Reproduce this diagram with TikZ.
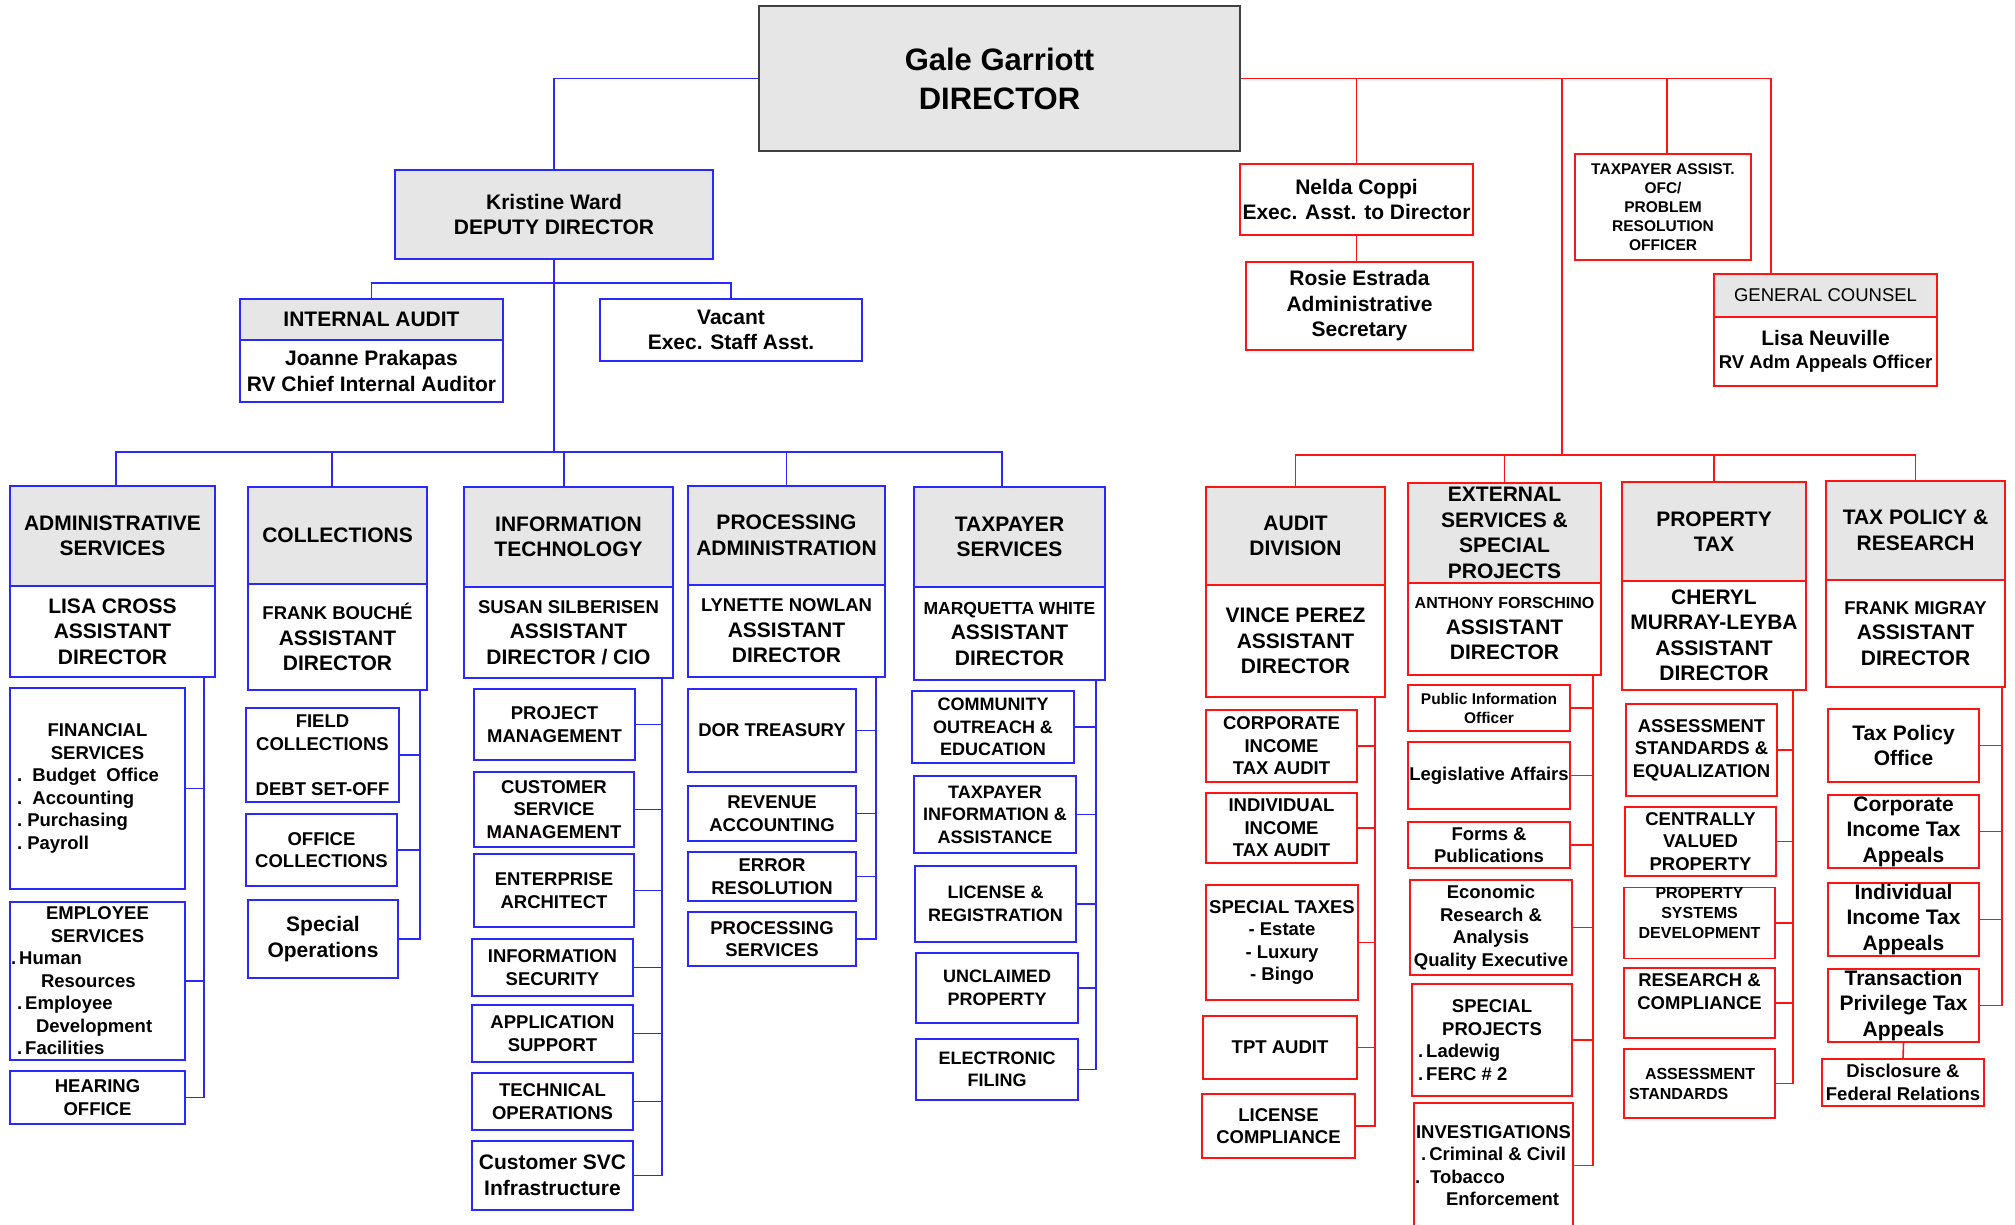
\documentclass[tikz,border=0pt]{standalone}
\usepackage{fontspec}
\setmainfont{Liberation Sans}

\definecolor{orgblue}{RGB}{40,40,255}
\definecolor{orgred}{RGB}{255,20,20}
\definecolor{boxgray}{RGB}{230,230,230}

\newcommand{\fbig}{\fontsize{31}{39}\selectfont}
\newcommand{\fhead}{\fontsize{21}{25.5}\selectfont}
\newcommand{\fsub}{\fontsize{18.5}{22.5}\selectfont}
\newcommand{\fsmall}{\fontsize{16}{20}\selectfont}
\newcommand{\ftiny}{\fontsize{15.5}{19}\selectfont}

\tikzset{
  every node/.style={inner sep=0pt, align=center},
  corners/.style args={#1/#2/#3/#4}{minimum width=#3-#1, minimum height=#4-#2,
    at={({(#1+#3)/2},{(#2+#4)/2})}, anchor=center},
  bbox/.style={draw=orgblue, line width=1.4pt, font=\bfseries\fsub},
  rbox/.style={draw=orgred, line width=1.4pt, font=\bfseries\fsub},
  bhead/.style={bbox, fill=boxgray, font=\bfseries\fhead},
  bbody/.style={bbox, font=\bfseries\fhead},
  rhead/.style={rbox, fill=boxgray, font=\bfseries\fhead},
  rbody/.style={rbox, font=\bfseries\fhead},
  bline/.style={orgblue, line width=1.6pt},
  rline/.style={orgred, line width=1.6pt},
}

\begin{document}
\begin{tikzpicture}[x=1pt, y=-1pt]
  \useasboundingbox (0,0) rectangle (2015,1225);

  % top
  \node[draw=black!75, line width=2pt, fill=boxgray, font=\bfseries\fbig, corners=759/6/1240/151] (dir) {Gale Garriott\\DIRECTOR};
  \node[bhead, corners=395/170/713/259] (kw) {Kristine Ward\\DEPUTY DIRECTOR};
  \node[bhead, corners=240/299/503/340] (iah) {INTERNAL AUDIT};
  \node[bbody, corners=240/340/503/402] (iab) {Joanne Prakapas\\RV Chief Internal Auditor};
  \node[bbody, corners=600/299/862/361] (va) {Vacant\\Exec. Staff Asst.};

  \node[rbody, corners=1240/164/1473/235] (nelda) {Nelda Coppi\\Exec. Asst. to Director};
  \node[rbody, corners=1246/262/1473/350] (rosie) {Rosie Estrada\\Administrative\\Secretary};
  \node[rbox, font=\bfseries\ftiny, corners=1575/154/1751/260] (tpa) {TAXPAYER ASSIST.\\OFC/\\PROBLEM\\RESOLUTION\\OFFICER};
  \node[rhead, font=\mdseries\fsub, corners=1714/274/1937/317] (gch) {GENERAL COUNSEL};
  \node[rbox, corners=1714/317/1937/386] (gcb) {{\fontsize{21}{23.5}\selectfont Lisa Neuville}\\RV Adm Appeals Officer};

  % blue divisions
  \node[bhead, corners=10/486/215/586] (admh) {ADMINISTRATIVE\\SERVICES};
  \node[bbody, corners=10/586/215/677] (admb) {LISA CROSS\\ASSISTANT\\DIRECTOR};
  \node[bhead, corners=248/487/427/584] (colh) {COLLECTIONS};
  \node[bbody, corners=248/584/427/690] (colb) {{\fsub FRANK BOUCHÉ}\\ASSISTANT\\DIRECTOR};
  \node[bhead, corners=464/487/673/587] (ith) {INFORMATION\\TECHNOLOGY};
  \node[bbody, corners=464/587/673/678] (itb) {{\fsub SUSAN SILBERISEN}\\ASSISTANT\\DIRECTOR / CIO};
  \node[bhead, corners=688/486/885/585] (proch) {PROCESSING\\ADMINISTRATION};
  \node[bbody, corners=688/585/885/677] (procb) {{\fsub LYNETTE NOWLAN}\\ASSISTANT\\DIRECTOR};
  \node[bhead, corners=914/487/1105/587] (tpsh) {TAXPAYER\\SERVICES};
  \node[bbody, corners=914/587/1105/680] (tpsb) {{\fontsize{17.5}{22}\selectfont MARQUETTA WHITE}\\ASSISTANT\\DIRECTOR};

  % red divisions
  \node[rhead, corners=1206/487/1385/585] (audh) {AUDIT\\DIVISION};
  \node[rbody, corners=1206/585/1385/697] (audb) {VINCE PEREZ\\ASSISTANT\\DIRECTOR};
  \node[rhead, corners=1408/483/1601/583] (exth) {EXTERNAL\\SERVICES \&\\SPECIAL\\PROJECTS};
  \node[rbody, corners=1408/583/1601/675] (extb) {{\fsmall ANTHONY FORSCHINO}\\ASSISTANT\\DIRECTOR};
  \node[rhead, corners=1622/482/1806/581] (proph) {PROPERTY\\TAX};
  \node[rbody, corners=1622/581/1806/690] (propb) {CHERYL\\MURRAY-LEYBA\\ASSISTANT\\DIRECTOR};
  \node[rhead, corners=1826/481/2005/580] (tprh) {TAX POLICY \&\\RESEARCH};
  \node[rbody, corners=1826/580/2005/687] (tprb) {{\fsub FRANK MIGRAY}\\ASSISTANT\\DIRECTOR};

  % administrative services units
  \node[bbox, corners=10/688/185/889] (fin) {FINANCIAL\\SERVICES\\\makebox[161pt][l]{.\ \ Budget\ \ Office}\\\makebox[161pt][l]{.\ \ Accounting}\\\makebox[161pt][l]{.\ Purchasing}\\\makebox[161pt][l]{.\ Payroll}};
  \node[bbox, corners=10/902/185/1060] (emp) {EMPLOYEE\\SERVICES\\\makebox[173pt][l]{.\,Human}\\\makebox[161pt][l]{\hspace*{24pt}Resources}\\\makebox[161pt][l]{.\,Employee}\\\makebox[161pt][l]{\hspace*{19pt}Development}\\\makebox[161pt][l]{.\,Facilities}};
  \node[bbox, corners=10/1071/185/1124] (hear) {HEARING\\OFFICE};

  % collections units
  \node[bbox, corners=246/708/399/802] (fld) {FIELD\\COLLECTIONS\\[22.5pt]DEBT SET-OFF};
  \node[bbox, corners=246/814/397/886] (ofc) {OFFICE\\COLLECTIONS};
  \node[bbox, font=\bfseries\fhead, corners=248/900/398/978] (spo) {Special\\Operations};

  % information technology units
  \node[bbox, corners=474/689/635/760] (pm) {PROJECT\\MANAGEMENT};
  \node[bbox, corners=474/772/634/847] (csm) {CUSTOMER\\SERVICE\\MANAGEMENT};
  \node[bbox, corners=474/854/634/927] (ea) {ENTERPRISE\\ARCHITECT};
  \node[bbox, corners=472/939/633/996] (itsec) {INFORMATION\\SECURITY};
  \node[bbox, corners=472/1005/633/1062] (appsup) {APPLICATION\\SUPPORT};
  \node[bbox, corners=472/1073/633/1130] (techop) {TECHNICAL\\OPERATIONS};
  \node[bbox, font=\bfseries\fhead, corners=472/1141/633/1210] (csi) {Customer SVC\\Infrastructure};

  % processing administration units
  \node[bbox, corners=688/689/856/772] (dor) {DOR TREASURY};
  \node[bbox, corners=688/786/856/841] (revacc) {REVENUE\\ACCOUNTING};
  \node[bbox, corners=688/852/856/901] (errres) {ERROR\\RESOLUTION};
  \node[bbox, corners=688/912/856/966] (procsv) {PROCESSING\\SERVICES};

  % taxpayer services units
  \node[bbox, font=\bfseries\fontsize{18}{22.5}\selectfont, corners=912/691/1074/763] (coe) {COMMUNITY\\OUTREACH \&\\EDUCATION};
  \node[bbox, font=\bfseries\fontsize{18}{22.5}\selectfont, corners=914/776/1076/853] (tia) {TAXPAYER\\INFORMATION \&\\ASSISTANCE};
  \node[bbox, font=\bfseries\fontsize{18}{22.5}\selectfont, corners=915/866/1076/942] (licreg) {LICENSE \&\\REGISTRATION};
  \node[bbox, font=\bfseries\fontsize{18}{22.5}\selectfont, corners=916/953/1078/1023] (uncl) {UNCLAIMED\\PROPERTY};
  \node[bbox, font=\bfseries\fontsize{18}{22.5}\selectfont, corners=916/1039/1078/1100] (efile) {ELECTRONIC\\FILING};

  % audit division units
  \node[rbox, corners=1206/710/1357/782] (cita) {CORPORATE\\INCOME\\TAX AUDIT};
  \node[rbox, corners=1206/793/1357/863] (iita) {INDIVIDUAL\\INCOME\\TAX AUDIT};
  \node[rbox, corners=1206/885/1358/1000] (spt) {SPECIAL TAXES\\- Estate\\- Luxury\\- Bingo};
  \node[rbox, corners=1203/1016/1357/1079] (tptaud) {TPT AUDIT};
  \node[rbox, corners=1202/1094/1355/1158] (liccmp) {LICENSE\\COMPLIANCE};

  % external services units
  \node[rbox, font=\bfseries\ftiny, corners=1408/685/1570/731] (pio) {Public Information\\Officer};
  \node[rbox, corners=1408/742/1570/809] (leg) {Legislative Affairs};
  \node[rbox, corners=1408/822/1570/868] (forms) {Forms \&\\Publications};
  \node[rbox, corners=1410/880/1572/975] (econ) {Economic\\Research \&\\Analysis\\Quality Executive};
  \node[rbox, corners=1412/984/1572/1096] (sproj) {SPECIAL\\PROJECTS\\\makebox[148pt][l]{.\,Ladewig}\\\makebox[148pt][l]{.\,FERC \# 2}};
  \node[rbox, corners=1414/1103/1573/1228] (inv) {INVESTIGATIONS\\.\,Criminal \& Civil\\\makebox[157pt][l]{.\hspace{10pt}Tobacco}\\\makebox[157pt][l]{\hspace*{31pt}Enforcement}};

  % property tax units
  \node[rbox, corners=1626/704/1777/796] (ase) {ASSESSMENT\\STANDARDS \&\\EQUALIZATION};
  \node[rbox, corners=1625/807/1776/876] (cvp) {CENTRALLY\\VALUED\\PROPERTY};
  \node[rbox, font=\bfseries\fsmall, corners=1624/888/1775/958] (psd) {PROPERTY\\SYSTEMS\\DEVELOPMENT\\~};
  \node[rbox, corners=1624/968/1775/1038] (rescmp) {RESEARCH \&\\COMPLIANCE\\~};
  \node[rbox, font=\bfseries\fsmall, corners=1624/1049/1775/1118] (asstd) {\makebox[141pt][l]{\hspace*{16pt}ASSESSMENT}\\\makebox[141pt][l]{STANDARDS}};

  % tax policy units
  \node[rbox, font=\bfseries\fhead, corners=1828/709/1979/782] (tpoff) {Tax Policy\\Office};
  \node[rbox, font=\bfseries\fhead, corners=1828/795/1979/868] (ctax) {Corporate\\Income Tax\\Appeals};
  \node[rbox, font=\bfseries\fhead, corners=1828/883/1979/956] (itax) {Individual\\Income Tax\\Appeals};
  \node[rbox, font=\bfseries\fhead, corners=1828/969/1979/1042] (ttax) {Transaction\\Privilege Tax\\Appeals};
  \node[rbox, corners=1822/1059/1984/1106] (dfr) {Disclosure \&\\Federal Relations};

  % blue connectors
  \coordinate (kwfork) at (554,283);
  \coordinate (bbus) at (554,452);
  \draw[bline] (dir.west) -| (kw.north);
  \draw[bline] (kw.south) -- (bbus);
  \draw[bline] (iah.north) |- (kwfork) -| (va.north);
  \draw[bline] ([xshift=3.5]admh.north) |- (bbus) -| ([xshift=-7.5]tpsh.north);
  \draw[bline] ([xshift=-5.5]colh.north) -- ([xshift=-5.5]colh.north |- bbus);
  \draw[bline] ([xshift=-4.5]ith.north) -- ([xshift=-4.5]ith.north |- bbus);
  \draw[bline] (proch.north) -- (proch.north |- bbus);

  \coordinate (admsp) at (204,677);
  \coordinate (colsp) at (420,690);
  \coordinate (itsp) at (662,678);
  \coordinate (procsp) at (876,677);
  \coordinate (tpssp) at (1096,680);
  \foreach \c in {fin,emp,hear} \draw[bline] (\c.east) -| (admsp);
  \foreach \c in {fld,ofc,spo} \draw[bline] (\c.east) -| (colsp);
  \foreach \c in {pm,csm,ea,itsec,appsup,techop,csi} \draw[bline] (\c.east) -| (itsp);
  \foreach \c in {dor,revacc,errres,procsv} \draw[bline] (\c.east) -| (procsp);
  \foreach \c in {coe,tia,licreg,uncl,efile} \draw[bline] (\c.east) -| (tpssp);

  % red connectors
  \coordinate (gctop) at (1771,274);
  \coordinate (rbus) at (1562,455);
  \draw[rline] (dir.east) -| (gctop);
  \draw[rline] (dir.east -| nelda.north) -- (nelda.north);
  \draw[rline] ([xshift=4]tpa.north |- dir.east) -- ([xshift=4]tpa.north);
  \draw[rline] (nelda.south) -- (nelda.south |- rosie.north);
  \draw[rline] (dir.east -| rbus) -- (rbus);
  \draw[rline] (audh.north) |- (rbus) -| (tprh.north);
  \foreach \n in {exth,proph}
    \draw[rline] (\n.north) -- (\n.north |- rbus);

  \coordinate (audsp) at (1375,697);
  \coordinate (extsp) at (1593,675);
  \coordinate (propsp) at (1793,690);
  \coordinate (tprsp) at (2002,687);
  \foreach \c in {cita,iita,spt,tptaud,liccmp} \draw[rline] (\c.east) -| (audsp);
  \foreach \c in {pio,leg,forms,econ,sproj,inv} \draw[rline] (\c.east) -| (extsp);
  \foreach \c in {ase,cvp,psd,rescmp,asstd} \draw[rline] (\c.east) -| (propsp);
  \foreach \c in {tpoff,ctax,itax,ttax} \draw[rline] (\c.east) -| (tprsp);
  \draw[rline] (ttax.south) -- (dfr.north);
\end{tikzpicture}
\end{document}
